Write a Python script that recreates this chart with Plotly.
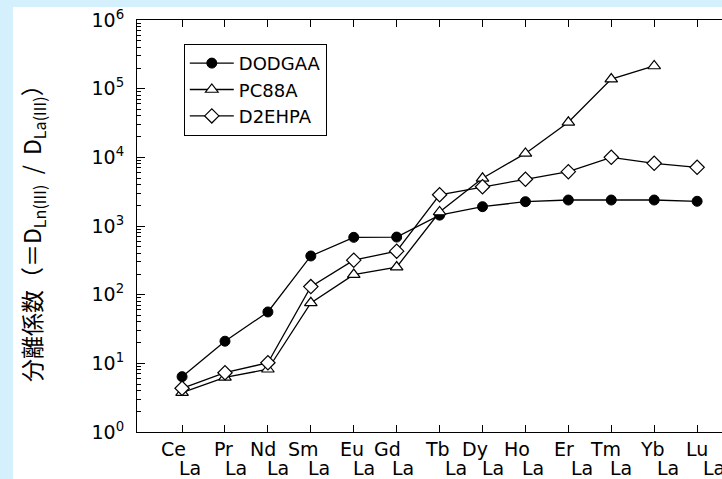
import plotly.graph_objects as go

# ---- data ----
elements = ["Ce", "Pr", "Nd", "Sm", "Eu", "Gd", "Tb", "Dy", "Ho", "Er", "Tm", "Yb", "Lu"]
denominator = "La"
dodgaa = [6.4, 21, 56, 366, 684, 690, 1440, 1910, 2260, 2390, 2390, 2390, 2290]
pc88a = [3.74, 6.26, 8.2, 76, 196, 252, 1600, 4950, 11400, 32400, 138000, 214000, None]
d2ehpa = [4.33, 7.3, 10.2, 131, 318, 430, 2850, 3730, 4790, 6180, 10000, 8180, 7160]
y_tick_vals = [1, 10, 100, 1000, 10000, 100000, 1000000]
y_tick_text = ["10<sup>0</sup>", "10<sup>1</sup>", "10<sup>2</sup>", "10<sup>3</sup>",
               "10<sup>4</sup>", "10<sup>5</sup>", "10<sup>6</sup>"]
y_title = "分離係数（＝D<sub>Ln(III)</sub>  /  D<sub>La(III)</sub>）"

# ---- style ----
FONT = "DejaVu Sans"
top_dx = [-9, -1, -5, -7, -2, -9, -2, -8, -8, -4, -6, -2, 0]
bot_dx = [8, 11, 10, 8, 10, 6, 16, 10, 8, 14, 10, 14, 17]

fig = go.Figure()
fig.add_trace(go.Scatter(
    x=elements, y=dodgaa, name="DODGAA", mode="lines+markers", legendgroup="a",
    line=dict(color="black", width=1.3),
    marker=dict(symbol="circle", size=10, color="black", line=dict(color="black", width=1))))
fig.add_trace(go.Scatter(
    x=elements, y=pc88a, name="PC88A", mode="lines+markers", legendgroup="b",
    line=dict(color="black", width=1.3),
    marker=dict(symbol="triangle-up", size=11, color="white", line=dict(color="black", width=1.2))))
fig.add_trace(go.Scatter(
    x=elements, y=d2ehpa, name="D2EHPA", mode="lines+markers", legendgroup="c",
    line=dict(color="black", width=1.3),
    marker=dict(symbol="diamond", size=11, color="white", line=dict(color="black", width=1.2))))

minor_vals = [m * 10 ** e for e in range(0, 6) for m in range(2, 10)]

fig.update_layout(
    width=722, height=479, autosize=False,
    margin=dict(l=137, r=0, t=20, b=47, pad=0),
    paper_bgcolor="white", plot_bgcolor="white",
    font=dict(family=FONT, size=18, color="black"),
    showlegend=True,
    legend=dict(x=0.08, y=0.942, xanchor="left", yanchor="top",
                bordercolor="black", borderwidth=1, bgcolor="white",
                font=dict(family=FONT, size=18, color="black"),
                itemwidth=44,
                traceorder="grouped", tracegroupgap=0),
    xaxis=dict(type="category", range=[-1.05, 12.58], showgrid=False, zeroline=False,
               showline=True, linecolor="black", linewidth=1.2, mirror="ticks",
               ticks="inside", ticklen=7, tickcolor="black", tickwidth=1,
               showticklabels=False),
    yaxis=dict(type="log", range=[0, 6], showgrid=False, zeroline=False,
               showline=True, linecolor="black", linewidth=1.2, mirror=False,
               ticks="inside", ticklen=8, tickcolor="black", tickwidth=1,
               tickmode="array", tickvals=y_tick_vals, ticktext=y_tick_text,
               tickfont=dict(family=FONT, size=19, color="black"),
               ticklabelstandoff=8,
               minor=dict(tickmode="array", tickvals=minor_vals, ticks="inside",
                          ticklen=4, tickcolor="black", tickwidth=1, showgrid=False)),
    shapes=[
        dict(type="rect", xref="paper", yref="paper", x0=-0.3, x1=1.05,
             y0=(432 - 7) / 412, y1=1.2, fillcolor="#d4f0fc", line=dict(width=0), layer="below"),
        dict(type="rect", xref="paper", yref="paper", x0=-0.3, x1=(13 - 137) / 585,
             y0=-0.2, y1=1.2, fillcolor="#d4f0fc", line=dict(width=0), layer="below"),
    ],
)

annotations = []
for i, el in enumerate(elements):
    annotations.append(dict(x=el, y=0, xref="x", yref="paper", text=el, showarrow=False,
                            xanchor="center", yanchor="middle", xshift=top_dx[i], yshift=-17,
                            font=dict(family=FONT, size=19, color="black")))
    annotations.append(dict(x=el, y=0, xref="x", yref="paper", text=denominator, showarrow=False,
                            xanchor="center", yanchor="middle", xshift=bot_dx[i], yshift=-36,
                            font=dict(family=FONT, size=19, color="black")))
annotations.append(dict(x=(32 - 137) / 585, y=(432 - 228) / 412, xref="paper", yref="paper",
                        text=y_title, showarrow=False, textangle=-90,
                        xanchor="center", yanchor="middle",
                        font=dict(family="Noto Sans CJK JP", size=23, color="black")))
fig.update_layout(annotations=annotations)

fig.write_html("out.html", config={"displayModeBar": False},
               post_script="document.body.style.margin='0';document.body.style.overflow='hidden';")
